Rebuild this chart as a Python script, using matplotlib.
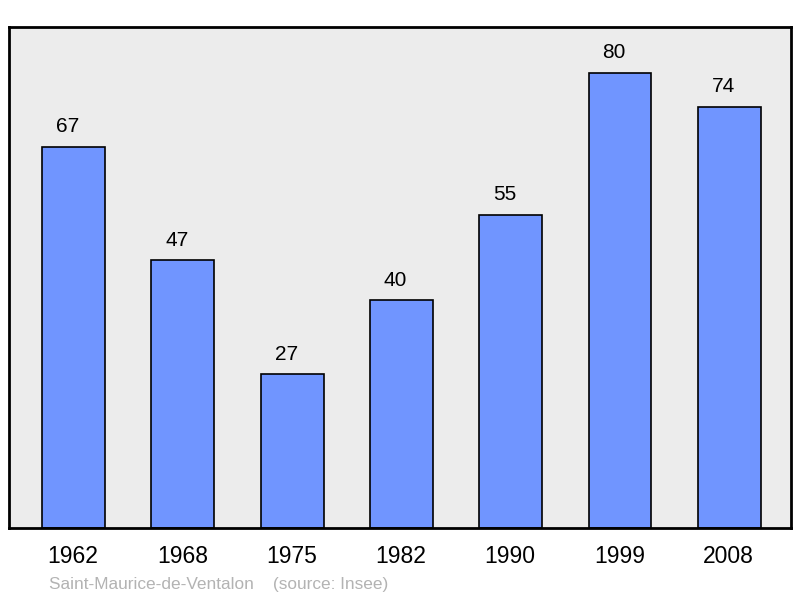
import matplotlib.pyplot as plt

plt.rcParams['font.family'] = ['Liberation Sans', 'DejaVu Sans']

years = ['1962', '1968', '1975', '1982', '1990', '1999', '2008']
population = [67, 47, 27, 40, 55, 80, 74]
title_text = 'Saint-Maurice-de-Ventalon    (source: Insee)'

fig = plt.figure(figsize=(8, 5.98), dpi=100)
# axes box in pixels: left 9, right 791, top 27, bottom 528
ax = fig.add_axes([9 / 800, 1 - 528 / 598, 782 / 800, 501 / 598])
ax.set_facecolor('#ececec')

x = list(range(len(years)))
bars = ax.bar([xi + 0.005 for xi in x], population, width=0.576, color='#7095ff',
              edgecolor='black', linewidth=1.2, zorder=2)

for xi, v in zip(x, population):
    ax.text(xi - 0.05, v + 3.5, str(v), ha='center', va='center', fontsize=15)

ax.set_xlim(-0.586, 6.57)
ax.set_ylim(0, 88)
ax.set_xticks(x)
ax.set_xticklabels(years, fontsize=16.5)
ax.tick_params(axis='x', length=0, pad=12)
ax.set_yticks([])
for s in ax.spines.values():
    s.set_linewidth(2)
    s.set_color('black')

fig.text(49 / 800, 1 - 584 / 598, title_text, color='#b3b3b3',
         fontsize=12.4, ha='left', va='center')

fig.savefig('out.png', dpi=100)
